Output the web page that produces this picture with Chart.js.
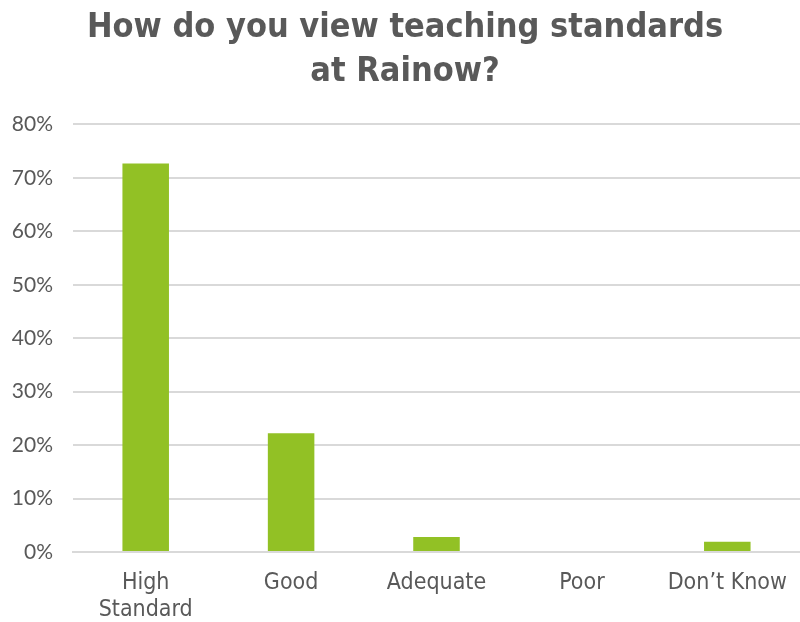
<!DOCTYPE html>
<html>
<head>
<meta charset="utf-8">
<script src="https://cdn.jsdelivr.net/npm/chart.js@4"></script>
<style>
  html, body { margin: 0; padding: 0; background: #fff; }
  #wrap { width: 800px; height: 622px; }
</style>
</head>
<body>
<div id="wrap"><canvas id="myGraph"></canvas></div>
<script>
const categories = [["High", "Standard"], "Good", "Adequate", "Poor", "Don\u2019t Know"];
const responses = [72.7, 22.2, 2.8, 0, 1.9];
const yTicks = [0, 10, 20, 30, 40, 50, 60, 70, 80];

const textColor = "#595959";
const gridColor = "#d9d9d9";

new Chart(document.getElementById("myGraph"), {
  type: "bar",
  data: {
    labels: categories,
    datasets: [
      {
        label: "Responses",
        data: responses,
        backgroundColor: "#92c125",
        borderWidth: 0,
        categoryPercentage: 1,
        barPercentage: 0.32,
      },
    ],
  },
  options: {
    responsive: true,
    maintainAspectRatio: false,
    animation: false,
    layout: { padding: { left: 10, right: 0, top: 6, bottom: 0 } },
    plugins: {
      legend: { display: false },
      tooltip: { enabled: false },
      title: {
        display: true,
        text: ["How do you view teaching standards", "at Rainow?"],
        color: textColor,
        font: { family: "DejaVu Sans Condensed", size: 34, weight: "bold", lineHeight: 1.3 },
        padding: { top: 0, bottom: 30 },
      },
    },
    scales: {
      x: {
        grid: { display: false },
        border: { color: gridColor, width: 2 },
        afterFit: (axis) => {
          axis.height = 70;
        },
        ticks: {
          color: textColor,
          font: { family: "DejaVu Sans Condensed", size: 23, lineHeight: 1.15 },
          padding: 10,
          maxRotation: 0,
          autoSkip: false,
        },
      },
      y: {
        min: 0,
        max: 80,
        afterBuildTicks: (axis) => {
          axis.ticks = yTicks.map((v) => ({ value: v }));
        },
        afterFit: (axis) => {
          axis.width = 63;
        },
        grid: { color: gridColor, lineWidth: 2, drawTicks: false },
        border: { display: false },
        ticks: {
          color: textColor,
          font: { family: "Lato", size: 21 },
          padding: 20,
          callback: (v) => v + "%",
        },
      },
    },
  },
});
</script>
</body>
</html>
